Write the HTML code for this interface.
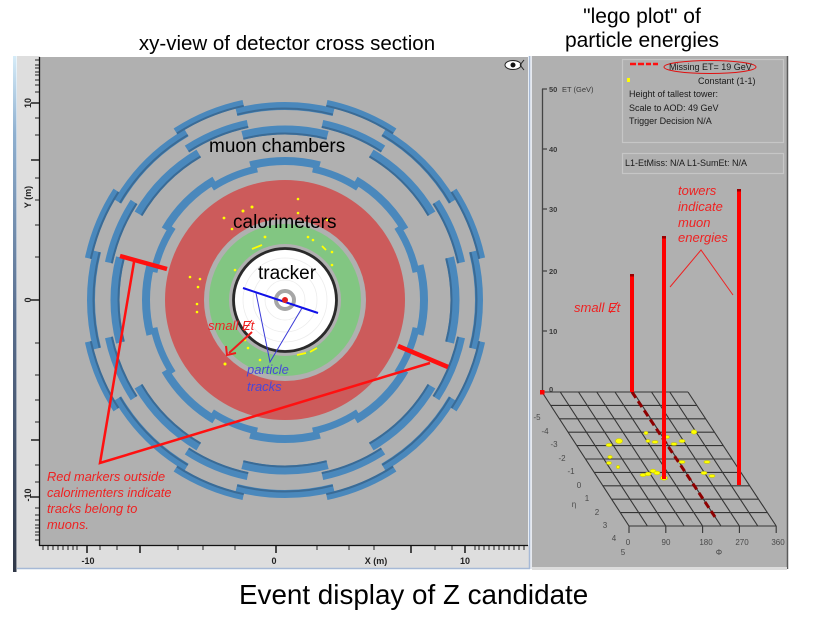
<!DOCTYPE html>
<html><head><meta charset="utf-8"><style>
html,body{margin:0;padding:0;background:#fff;}
svg{display:block;}
text{font-family:"Liberation Sans",Arial,sans-serif;}
</style></head><body>
<svg width="828" height="619" viewBox="0 0 828 619" xmlns="http://www.w3.org/2000/svg">
<defs>
<linearGradient id="lg" x1="0" y1="0" x2="0" y2="1">
<stop offset="0" stop-color="#d6ecf8"/><stop offset="0.15" stop-color="#8fb0d0"/><stop offset="0.5" stop-color="#5a6f8f"/><stop offset="1" stop-color="#303848"/>
</linearGradient>
</defs>
<!-- Titles -->
<text x="287" y="50" font-size="20.5" text-anchor="middle" fill="#000">xy-view of detector cross section</text>
<text x="642" y="23" font-size="21" text-anchor="middle" fill="#000">"lego plot" of</text>
<text x="642" y="47" font-size="21" text-anchor="middle" fill="#000">particle energies</text>
<text x="239" y="604" font-size="27.8" fill="#000">Event display of Z candidate</text>

<!-- Left panel frame -->
<rect x="13" y="56" width="3.5" height="516" fill="url(#lg)"/>
<rect x="17" y="56" width="23" height="513" fill="#dedede"/>
<rect x="17" y="545" width="512" height="24" fill="#dedede"/>
<rect x="40" y="57" width="488" height="488" fill="#b0b0b0"/>
<line x1="17" y1="568.5" x2="530" y2="568.5" stroke="#a6b9d6" stroke-width="1.5"/>
<line x1="529.5" y1="56" x2="529.5" y2="569" stroke="#a6b9d6" stroke-width="1.5"/>
<line x1="39.5" y1="57" x2="39.5" y2="546" stroke="#111" stroke-width="1.3"/>
<line x1="39" y1="545.5" x2="528" y2="545.5" stroke="#111" stroke-width="1.3"/>
<!-- Y ticks -->
<g stroke="#222" stroke-width="1">
<path d="M35 60H39M35 65H39M35 68H39M35 72H39M35 75H39M35 80H39M35 85H39M35 92H39M35 118H39M35 135H39M35 178H39M35 200H39M35 225H39M35 257H39M35 343H39M35 375H39M35 400H39M35 422H39M35 465H39M35 482H39M35 508H39M35 515H39M35 520H39M35 525H39M35 528H39M35 532H39M35 535H39M35 540H39"/>
<path d="M31 103H39M31 160H39M31 300H39M31 440H39M31 497H39" stroke-width="1.6"/>
</g>
<g font-size="9" font-weight="bold" fill="#222" text-anchor="middle">
<text transform="translate(31,103) rotate(-90)">10</text>
<text transform="translate(31,197) rotate(-90)">Y (m)</text>
<text transform="translate(31,300) rotate(-90)">0</text>
<text transform="translate(31,495) rotate(-90)">-10</text>
</g>
<!-- X ticks -->
<g stroke="#222" stroke-width="1">
<path d="M43 546V550M48 546V550M53 546V550M58 546V550M63 546V550M68 546V550M73 546V550M77 546V550M100 546V550M117 546V550M178 546V550M203 546V550M235 546V550M317 546V550M349 546V550M374 546V550M435 546V550M452 546V550M475 546V550M479 546V550M484 546V550M489 546V550M494 546V550M499 546V550M504 546V550M509 546V550M514 546V550M519 546V550M524 546V550"/>
<path d="M87 546V553M140 546V553M276 546V553M411 546V553M465 546V553" stroke-width="1.6"/>
</g>
<g font-size="9" font-weight="bold" fill="#222" text-anchor="middle">
<text x="88" y="564">-10</text><text x="274" y="564">0</text><text x="376" y="564">X (m)</text><text x="465" y="564">10</text>
</g>
<!-- eye icon -->
<g transform="translate(513,65)">
<ellipse cx="0" cy="0" rx="8" ry="4.5" fill="#fff" stroke="#222" stroke-width="1"/>
<circle cx="0" cy="0" r="2.5" fill="#111"/>
<path d="M7 0L11 -5M7 0L11 5" stroke="#222" stroke-width="1" fill="none"/>
</g>

<!-- Muon chambers -->
<g fill="none" stroke="#4a88bc">
<circle cx="285" cy="300" r="201" stroke-width="7" pathLength="360" stroke-dasharray="21 24" stroke-dashoffset="33"/>
<circle cx="285" cy="300" r="180" stroke-width="8" pathLength="360" stroke-dasharray="21 24" stroke-dashoffset="33"/>
<circle cx="285" cy="300" r="134" stroke-width="7" pathLength="360" stroke-dasharray="21 24" stroke-dashoffset="33"/>
<circle cx="285" cy="300" r="194" stroke-width="8" pathLength="360" stroke-dasharray="29 16" stroke-dashoffset="14.5"/>
<circle cx="285" cy="300" r="170" stroke-width="9" pathLength="360" stroke-dasharray="29 16" stroke-dashoffset="14.5"/>
<circle cx="285" cy="300" r="139" stroke-width="8" pathLength="360" stroke-dasharray="29 16" stroke-dashoffset="14.5"/>
</g>
<g fill="none" stroke="#3a6b96" stroke-width="2">
<circle cx="285" cy="300" r="198.5" pathLength="360" stroke-dasharray="21 24" stroke-dashoffset="33"/>
<circle cx="285" cy="300" r="177" pathLength="360" stroke-dasharray="21 24" stroke-dashoffset="33"/>
<circle cx="285" cy="300" r="191.5" pathLength="360" stroke-dasharray="29 16" stroke-dashoffset="14.5"/>
<circle cx="285" cy="300" r="166.5" pathLength="360" stroke-dasharray="29 16" stroke-dashoffset="14.5"/>
</g>

<!-- Calorimeters / tracker -->
<circle cx="285" cy="300" r="120" fill="#cc5b5b"/>
<circle cx="285" cy="300" r="81" fill="#b0b0b0"/>
<circle cx="285" cy="300" r="76" fill="#82c682"/>
<circle cx="285" cy="300" r="56" fill="#b0b0b0"/>
<circle cx="285" cy="300" r="50" fill="#ffffff"/>
<circle cx="285" cy="300" r="51.5" fill="none" stroke="#2a2a2a" stroke-width="2.8"/>
<g fill="none" stroke="#ececec" stroke-width="0.8">
<circle cx="285" cy="300" r="20"/><circle cx="285" cy="300" r="32"/><circle cx="285" cy="300" r="42"/>
</g>
<circle cx="285" cy="300" r="9" fill="none" stroke="#a6a6a6" stroke-width="4"/>
<!-- yellow hits -->
<g fill="#ffff00">
<circle cx="252" cy="207" r="1.5"/><circle cx="243" cy="211" r="1.5"/><circle cx="298" cy="199" r="1.3"/><circle cx="298" cy="213" r="1.3"/>
<circle cx="224" cy="218" r="1.4"/><circle cx="232" cy="229" r="1.3"/><circle cx="190" cy="277" r="1.3"/><circle cx="200" cy="279" r="1.3"/>
<circle cx="198" cy="287" r="1.3"/><circle cx="197" cy="304" r="1.3"/><circle cx="197" cy="312" r="1.3"/><circle cx="225" cy="364" r="1.5"/>
<circle cx="265" cy="237" r="1.4"/><circle cx="308" cy="237" r="1.3"/><circle cx="313" cy="240" r="1.3"/><circle cx="332" cy="252" r="1.3"/>
<circle cx="332" cy="265" r="1.3"/><circle cx="235" cy="270" r="1.3"/><circle cx="245" cy="340" r="1.3"/><circle cx="248" cy="348" r="1.3"/>
<circle cx="260" cy="360" r="1.3"/><circle cx="327" cy="220" r="1.2"/>
</g>
<g stroke="#ffff00" stroke-width="1.8" fill="none">
<path d="M252 249L262 245"/><path d="M297 355L306 353M310 352L317 348"/><path d="M322 246L326 250"/>
</g>
<!-- tracks -->
<line x1="243" y1="288" x2="318" y2="313" stroke="#1010e8" stroke-width="2"/>
<circle cx="285" cy="300" r="3" fill="#e02020"/>
<g stroke="#3a3ad8" stroke-width="1" fill="none">
<path d="M256 293L270 362L302 308"/>
</g>
<g font-size="13" font-style="italic" fill="#4848d8">
<text x="247" y="374">particle</text><text x="247" y="391">tracks</text>
</g>
<!-- small Et arrow -->
<g stroke="#ee1c1c" stroke-width="2" fill="none">
<path d="M252 332L229 353"/>
<path d="M226 346L227 355L236 353"/>
</g>
<g font-size="13" font-style="italic" fill="#ee2222">
<text x="208" y="330">small Et</text>
</g>
<line x1="244" y1="331" x2="252" y2="320" stroke="#ee2222" stroke-width="1"/>

<!-- labels -->
<g font-size="19" fill="#000">
<text x="209" y="152">muon chambers</text>
<text x="233" y="228">calorimeters</text>
<text x="258" y="279">tracker</text>
</g>

<!-- red muon markers -->
<g stroke="#ff1010" stroke-linecap="butt">
<line x1="120" y1="256" x2="167" y2="269" stroke-width="4.5"/>
<line x1="398" y1="346" x2="448" y2="367" stroke-width="4.5"/>
<path d="M134 262L100 463L430 363" fill="none" stroke-width="2.5"/>
</g>
<g font-size="12.8" font-style="italic" fill="#ee2222">
<text x="47" y="481">Red markers outside</text>
<text x="47" y="497">calorimenters indicate</text>
<text x="47" y="513">tracks belong to</text>
<text x="47" y="529">muons.</text>
</g>

<!-- Right panel -->
<rect x="532" y="56" width="255" height="511" fill="#b0b0b0"/>
<line x1="531" y1="56" x2="531" y2="569" stroke="#dde2ea" stroke-width="1.5"/>
<line x1="787.5" y1="56" x2="787.5" y2="569" stroke="#5a5a5a" stroke-width="1.5"/>
<rect x="532" y="567" width="255" height="3" fill="#dcdcdc"/>
<rect x="622.5" y="59.5" width="161" height="83" fill="none" stroke="#c6c6c6" stroke-width="1.2"/>
<rect x="622.5" y="153.5" width="161" height="20" fill="none" stroke="#c6c6c6" stroke-width="1.2"/>
<path d="M630 64H636M638 64H644M646 64H651M653 64H658" stroke="#ff1010" stroke-width="2.5"/>
<ellipse cx="710" cy="67" rx="46" ry="6.5" fill="none" stroke="#e01010" stroke-width="1"/>
<rect x="627" y="78" width="3" height="4" fill="#ffff00"/>
<g font-size="9" fill="#1a1a1a">
<text x="669" y="70">Missing ET= 19 GeV</text>
<text x="698" y="84">Constant (1-1)</text>
<text x="629" y="97">Height of tallest tower:</text>
<text x="629" y="111">Scale to AOD: 49 GeV</text>
<text x="629" y="124">Trigger Decision N/A</text>
<text x="625" y="166">L1-EtMiss: N/A L1-SumEt: N/A</text>
</g>
<!-- lego y axis -->
<line x1="542.5" y1="89" x2="542.5" y2="392" stroke="#444" stroke-width="1.3"/>
<path d="M542 89H547M542 149H547M542 209H547M542 271H547M542 331H547" stroke="#444" stroke-width="1.2"/>
<g font-size="7.5" fill="#3a3a3a" font-weight="bold">
<text x="549" y="92">50</text><text x="562" y="92" font-weight="normal">ET (GeV)</text>
<text x="549" y="152">40</text><text x="549" y="212">30</text><text x="549" y="274">20</text><text x="549" y="334">10</text><text x="549" y="392">0</text>
</g>
<!-- lego grid -->
<g stroke="#353535" stroke-width="1.1" fill="none">
<path d="M542 392H688M550.7 405.4H696.8M559.4 418.8H705.6M568.1 432.2H714.4M576.8 445.6H723.2M585.5 459H732M594.2 472.4H740.8M602.9 485.8H749.6M611.6 499.2H758.4M620.3 512.6H767.2M629 526H776"/>
<path d="M542 392L629 526M560.25 392L647.4 526M578.5 392L665.8 526M596.75 392L684.2 526M615 392L702.6 526M633.25 392L721 526M651.5 392L739.4 526M669.75 392L757.8 526M688 392L776.2 526"/>
<path d="M629 526V533M665.8 526V533M702.6 526V533M739.4 526V533M776.2 526V533"/>
</g>
<g font-size="8" fill="#4a4a4a" text-anchor="middle">
<text x="537" y="420">-5</text><text x="545" y="434">-4</text><text x="554" y="447">-3</text><text x="562" y="461">-2</text><text x="571" y="474">-1</text>
<text x="579" y="488">0</text><text x="587" y="501">1</text><text x="597" y="515">2</text><text x="605" y="528">3</text><text x="614" y="541">4</text><text x="623" y="555">5</text>
<text x="574" y="507">η</text>
<text x="628" y="545">0</text><text x="666" y="545">90</text><text x="706" y="545">180</text><text x="742" y="545">270</text><text x="778" y="545">360</text>
<text x="719" y="555">Φ</text>
</g>
<!-- missing ET dashed -->
<line x1="632" y1="392" x2="717" y2="520" stroke="#8e0000" stroke-width="3" stroke-dasharray="7 4"/>
<!-- yellow blobs -->
<g fill="#ffff00" stroke="#c9c900" stroke-width="0.6">
<ellipse cx="619" cy="441" rx="3.5" ry="2.5"/><ellipse cx="609" cy="445" rx="3" ry="1.6"/><ellipse cx="646" cy="433" rx="2" ry="1.6"/>
<ellipse cx="648" cy="441" rx="2" ry="1.4"/><ellipse cx="655" cy="442" rx="3" ry="1.4"/><ellipse cx="667" cy="437" rx="2.5" ry="1.5"/>
<ellipse cx="674" cy="444" rx="3" ry="1.4"/><ellipse cx="682" cy="441" rx="3" ry="1.6"/><ellipse cx="694" cy="432" rx="2.8" ry="2.2"/>
<ellipse cx="610" cy="457" rx="2.2" ry="1.6"/><ellipse cx="609" cy="463" rx="2.5" ry="1.5"/><ellipse cx="618" cy="467" rx="1.6" ry="1.6"/>
<ellipse cx="682" cy="462" rx="3" ry="1.4"/><ellipse cx="707" cy="462" rx="3" ry="1.4"/>
<ellipse cx="643" cy="475" rx="3" ry="1.6"/><ellipse cx="648" cy="474" rx="3" ry="1.8"/><ellipse cx="653" cy="471" rx="3" ry="1.8"/><ellipse cx="657" cy="473" rx="3" ry="1.8"/>
<ellipse cx="664" cy="478" rx="3.5" ry="2.2"/><ellipse cx="704" cy="473" rx="3" ry="1.6"/><ellipse cx="712" cy="476" rx="3" ry="1.4"/>
</g>
<!-- towers -->
<g fill="#ff0000">
<rect x="630" y="275" width="4" height="117"/>
<rect x="662" y="237" width="4" height="242"/>
<rect x="737" y="190" width="4" height="295"/>
</g>
<g fill="#9a0000">
<rect x="630" y="274" width="4" height="2.5"/><rect x="662" y="236" width="4" height="2.5"/><rect x="737" y="189" width="4" height="2.5"/>
</g>
<rect x="540" y="390" width="4.5" height="4.5" fill="#ff0000"/>
<!-- right annotations -->
<g font-size="13" font-style="italic" fill="#ee2222">
<text x="678" y="195">towers</text>
<text x="678" y="211">indicate</text>
<text x="678" y="227">muon</text>
<text x="678" y="242">energies</text>
<text x="574" y="312">small Et</text>
</g>
<line x1="610" y1="313" x2="618" y2="302" stroke="#ee2222" stroke-width="1"/>
<path d="M670 287L701 250L733 295" fill="none" stroke="#ee2222" stroke-width="1"/>
</svg>
</body></html>
